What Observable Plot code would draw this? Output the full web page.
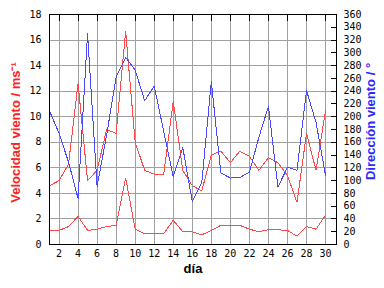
<!DOCTYPE html>
<html><head><meta charset="utf-8">
<script src="https://cdn.jsdelivr.net/npm/d3@7"></script>
<script src="https://cdn.jsdelivr.net/npm/@observablehq/plot@0.6"></script>
<style>body{margin:0;background:#fff}svg{display:block}</style>
</head><body><div id="chart"></div>
<script>
const days = [1,2,3,4,5,6,7,8,9,10,11,12,13,14,15,16,17,18,19,20,21,22,23,24,25,26,27,28,29,30];
const velMax = [4.6,5.0,6.3,12.6,5.0,5.8,9.0,8.7,16.7,8.0,5.8,5.5,5.5,11.2,5.8,4.6,4.2,7.0,7.3,6.4,7.3,6.9,5.8,6.8,6.4,5.4,3.3,8.7,5.8,10.5];
const velMean = [1.1,1.1,1.4,2.2,1.1,1.2,1.4,1.5,5.2,1.2,0.85,0.85,0.85,1.9,1.0,1.0,0.76,1.1,1.5,1.5,1.5,1.2,1.0,1.15,1.15,1.1,0.65,1.4,1.2,2.3];
const dirDeg = [209,174,129,72,330,91,171,262,293,273,225,248,177,106,152,67,97,255,112,104,105,113,168,216,90,121,116,241,191,108];
const xTicks = [2,4,6,8,10,12,14,16,18,20,22,24,26,28,30];
const yTicks = [0,2,4,6,8,10,12,14,16,18];
const dirTicks = [0,20,40,60,80,100,120,140,160,180,200,220,240,260,280,300,320,340,360];
const dirScale = 20; // 360° ↔ 18 m/s

const rows = days.map((d,i)=>({d, vmax: velMax[i], vmean: velMean[i], dir: dirDeg[i]/dirScale}));
const mono = "DejaVu Sans Mono";
const sans = "Liberation Sans";

const chart = Plot.plot({
  width: 384, height: 288,
  marginLeft: 49, marginRight: 48, marginTop: 14, marginBottom: 44,
  style: {background: "#fff", fontFamily: mono, fontSize: "10px"},
  x: {domain: [1, 31.15]},
  y: {domain: [0, 18]},
  marks: [
    Plot.gridX(xTicks, {stroke: "#a0a0a0", strokeOpacity: 1, shapeRendering: "crispEdges"}),
    Plot.gridY(yTicks, {stroke: "#a0a0a0", strokeOpacity: 1, shapeRendering: "crispEdges"}),
    Plot.line(rows, {x: "d", y: "vmean", stroke: "#ff4848", strokeWidth: 1, shapeRendering: "crispEdges"}),
    Plot.line(rows, {x: "d", y: "vmax", stroke: "#ff4848", strokeWidth: 1, shapeRendering: "crispEdges"}),
    Plot.line(rows, {x: "d", y: "dir", stroke: "#4848ff", strokeWidth: 1, shapeRendering: "crispEdges"}),
    Plot.frame({stroke: "black", shapeRendering: "crispEdges"}),
    Plot.axisX(xTicks, {anchor: "bottom", tickSize: 0, tickPadding: 5, label: null, fontFamily: mono, fontSize: 10}),
    Plot.axisX(xTicks, {anchor: "top", tickSize: 6, dy: 6, tickFormat: () => "", label: null, shapeRendering: "crispEdges"}),
    Plot.axisY(yTicks, {anchor: "left", tickSize: 0, tickPadding: 8, label: null, fontFamily: mono, fontSize: 10}),
    Plot.axisY(dirTicks.map(t => t/dirScale), {anchor: "right", tickSize: 6, dx: -6, tickFormat: () => "", label: null, shapeRendering: "crispEdges"}),
    Plot.axisY(dirTicks.map(t => t/dirScale), {anchor: "right", tickSize: 0, tickPadding: 7, tickFormat: v => String(Math.round(v*dirScale)), label: null, fontFamily: mono, fontSize: 10, textAnchor: "start"}),
    Plot.text(["Velocidad viento / ms⁻¹"], {frameAnchor: "left", textAnchor: "middle", dx: -34, dy: 3, rotate: -90, fill: "#ff2020", fontFamily: sans, fontWeight: "bold", fontSize: 13}),
    Plot.text(["Dirección viento / °"], {frameAnchor: "right", textAnchor: "middle", dx: 34, dy: -8, rotate: -90, fill: "#2a2aff", fontFamily: sans, fontWeight: "bold", fontSize: 13}),
    Plot.text(["día"], {frameAnchor: "bottom", dy: 28, fill: "black", fontFamily: sans, fontWeight: "bold", fontSize: 13})
  ]
});
document.getElementById("chart").append(chart);
</script>
</body></html>
